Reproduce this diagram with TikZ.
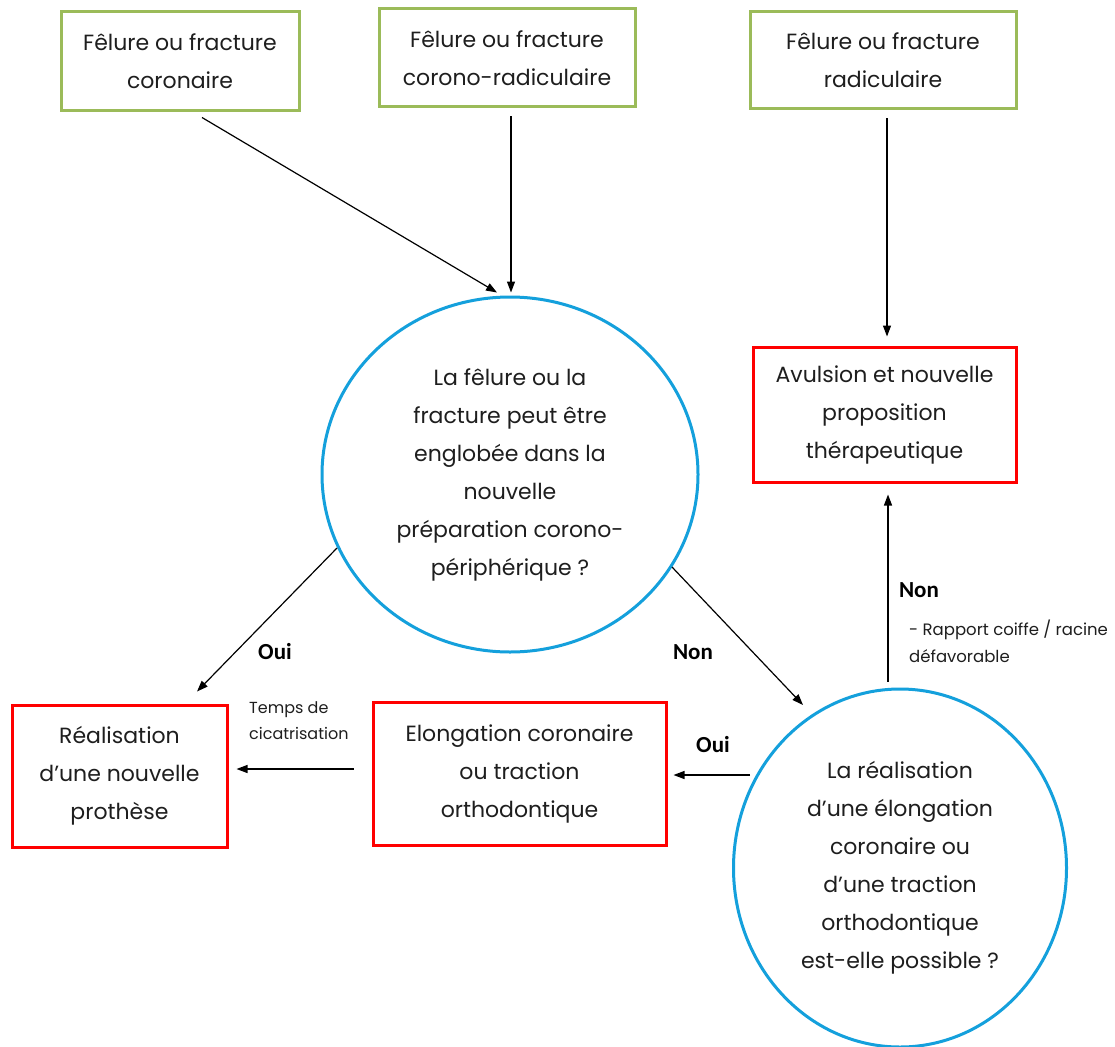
\documentclass[tikz,border=0pt]{standalone}
\usepackage{fontspec}
\setmainfont{Poppins}
\newfontfamily\lblfont{Carlito}
\usetikzlibrary{shapes.geometric,arrows.meta}
\definecolor{boxgreen}{RGB}{155,187,89}
\definecolor{boxred}{RGB}{255,0,0}
\definecolor{circblue}{RGB}{20,160,220}
\definecolor{txtgray}{RGB}{30,30,30}
\tikzset{
  bigtxt/.style={font=\fontsize{22}{38}\selectfont, align=center, text=txtgray},
  greenbox/.style={draw=boxgreen, line width=3pt, rectangle, inner sep=0pt, bigtxt},
  redbox/.style={draw=boxred, line width=3pt, rectangle, inner sep=0pt, bigtxt},
  bluecirc/.style={draw=circblue, line width=3pt, ellipse, inner sep=0pt, bigtxt},
  arr/.style={-{Triangle[length=11pt,width=8pt]}, line width=1.2pt, draw=black},
  yesno/.style={font=\lblfont\bfseries\fontsize{23}{26}\selectfont, text=black, inner sep=0pt},
  smalltxt/.style={font=\fontsize{16}{26}\selectfont, align=left, text=txtgray, inner sep=0pt}
}
\begin{document}
\begin{tikzpicture}[x=1pt,y=-1pt]
\useasboundingbox (0,0) rectangle (1115,1046);
\fill[white] (0,0) rectangle (1115,1046);

% top boxes
\node[greenbox, minimum width=238, minimum height=99] (b1) at (180,61.5) {Fêlure ou fracture\\coronaire};
\node[greenbox, minimum width=256, minimum height=98] (b2) at (507,58) {Fêlure ou fracture\\corono-radiculaire};
\node[greenbox, minimum width=266, minimum height=97] (b3) at (883,60.5) {Fêlure ou fracture\\radiculaire};

% red boxes
\node[redbox, minimum width=263, minimum height=135] (av) at (884.5,414.5) {Avulsion et nouvelle\\proposition\\thérapeutique};
\node[redbox, minimum width=215, minimum height=142] (re) at (119.5,776) {Réalisation\\d’une nouvelle\\prothèse};
\node[redbox, minimum width=293, minimum height=143] (el) at (519.5,773.5) {Elongation coronaire\\ou traction\\orthodontique};

% circles
\node[bluecirc, minimum width=376, minimum height=355] (c1) at (510,474.5) {La fêlure ou la\\fracture peut être\\englobée dans la\\nouvelle\\préparation corono-\\périphérique ?};
\node[bluecirc, minimum width=333, minimum height=358] (c2) at (900,868) {La réalisation\\d’une élongation\\coronaire ou\\d’une traction\\orthodontique\\est-elle possible ?};

% connectors
\draw[arr] ([shift={(22,5)}]b1.south) -- ([shift={(-13,-3)}]c1.north);
\draw[arr] ([shift={(4,8)}]b2.south) -- ([shift={(1,-3)}]c1.north);
\draw[arr] ([shift={(4,8)}]b3.south) -- ([shift={(2.5,-9)}]av.north);
\draw[arr] ([shift={(-12,-6)}]c2.north) -- ([shift={(3.5,11)}]av.south);
\draw[arr] ([shift={(-173,73.5)}]c1.center) -- ([shift={(77.5,-12)}]re.north);
\draw[arr] ([shift={(162,92.5)}]c1.center) -- ([shift={(-97,-163)}]c2.center);
\draw[arr] ([shift={(-150,-93)}]c2.center) -- ([shift={(6,1.5)}]el.east);
\draw[arr] ([shift={(-18,-4.5)}]el.west) -- ([shift={(8,-7)}]re.east);

% labels
\node[yesno] (l1) at (275,652) {Oui};
\node[yesno] (l2) at (693,652) {Non};
\node[yesno] (l3) at (713,745) {Oui};
\node[yesno] (l4) at (919,590) {Non};
\node[smalltxt, anchor=west] (t1) at (249,721) {Temps de\\cicatrisation};
\node[smalltxt, anchor=west, font=\fontsize{16.5}{27}\selectfont] (t2) at (909,641) {- Rapport coiffe / racine\\défavorable};
\end{tikzpicture}
\end{document}
